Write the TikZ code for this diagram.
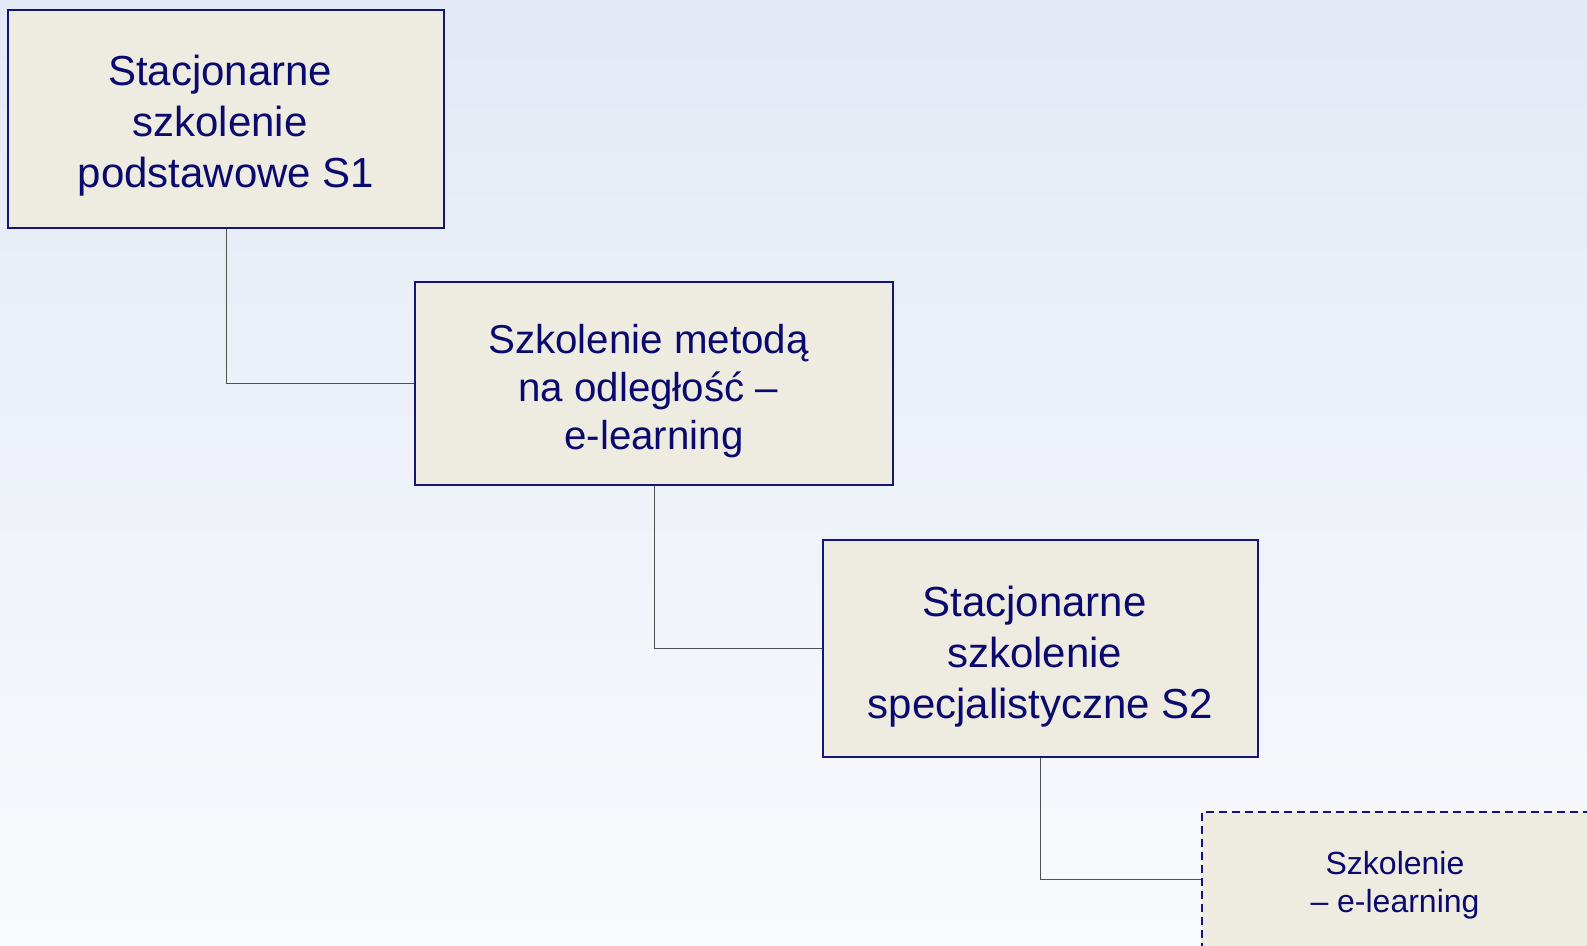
\documentclass[tikz,border=0pt]{standalone}
\usepackage{fontspec}
\setmainfont{Liberation Sans}
\definecolor{navy}{HTML}{0A0A6E}
\definecolor{boxborder}{HTML}{14147A}
\definecolor{boxfill}{HTML}{EEEBE1}
\definecolor{bgtop}{HTML}{E3E9F5}
\definecolor{bgbot}{HTML}{F9FAFD}
\definecolor{conn}{HTML}{505050}
\begin{document}
\begin{tikzpicture}[x=1pt,y=-1pt,
  stagebox/.style={draw=boxborder,line width=1.5pt,fill=boxfill,
    inner sep=0pt,rectangle},
  boxtext/.style={text=navy,align=center,inner sep=0pt},
  bigtext/.style={boxtext,font=\fontsize{42}{51}\selectfont},
  midtext/.style={boxtext,font=\fontsize{40.3}{48}\selectfont},
  smalltext/.style={boxtext,font=\fontsize{32}{38}\selectfont},
  linkline/.style={draw=conn,line width=1pt}]
\useasboundingbox (0,0) rectangle (1587,945);
\shade[top color=bgtop,bottom color=bgbot] (0,0) rectangle (1587,945);
\node[stagebox,minimum width=436pt,minimum height=218pt,
  label={[bigtext,yshift=-7pt]center:Stacjonarne\kern0.28em\\szkolenie\kern0.28em\\podstawowe S1}] (b1) at (226,119) {};
\node[stagebox,minimum width=478pt,minimum height=203pt,
  label={[midtext,yshift=-8pt]center:Szkolenie metodą\kern0.28em\\na odległość –\kern0.28em\\e-learning}] (b2) at (654,383.5) {};
\node[stagebox,minimum width=435pt,minimum height=217pt,
  label={[bigtext,yshift=-8pt]center:Stacjonarne\kern0.28em\\szkolenie\kern0.28em\\specjalistyczne S2}] (b3) at (1040.5,648.5) {};
\node[stagebox,dash pattern=on 8pt off 5pt,minimum width=386pt,minimum height=150pt,
  label={[smalltext,yshift=2pt]center:Szkolenie\\– e-learning}] (b4) at (1395,887) {};
\coordinate (b4in) at ([yshift=8pt]b4.west);
\draw[linkline] (b1.south) |- (b2.west);
\draw[linkline] (b2.south) |- (b3.west);
\draw[linkline] (b3.south) |- (b4in);
\end{tikzpicture}
\end{document}
